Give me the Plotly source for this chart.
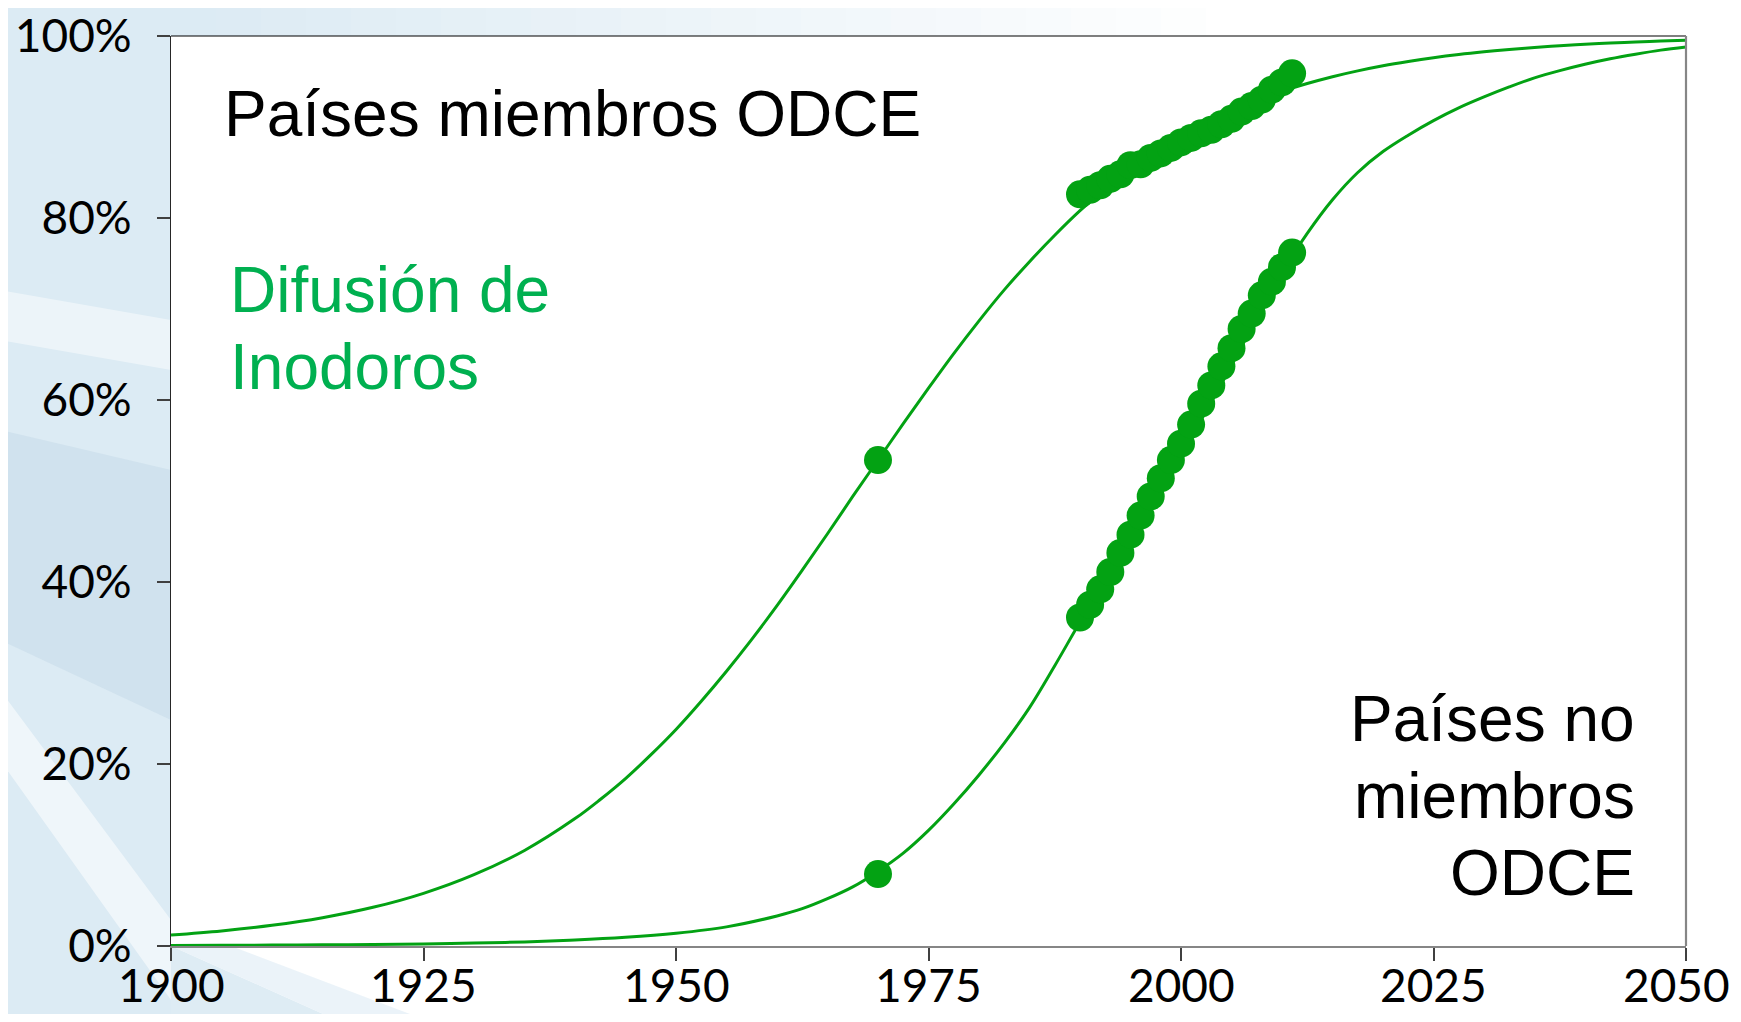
import plotly.graph_objects as go

# ---------------- data (percent) ----------------
oecd_curve_years = [1900, 1905, 1910, 1915, 1920, 1925, 1930, 1935, 1940, 1942.5,
                    1945, 1947.5, 1950, 1952.5, 1955, 1957.5, 1960, 1962.5, 1965, 1967.5,
                    1970, 1972.5, 1975, 1977.5, 1980, 1982.5, 1985, 1987.5, 1990, 1992.5,
                    1995, 1997.5, 2000, 2002.5, 2005, 2007.5, 2010, 2012.5, 2015, 2017.5,
                    2020, 2022.5, 2025, 2027.5, 2030, 2032.5, 2035, 2037.5, 2040, 2042.5,
                    2045, 2047.5, 2050]
oecd_curve = [1.2, 1.65, 2.27, 3.11, 4.25, 5.79, 7.84, 10.5, 14.0, 16.1,
              18.4, 21.0, 23.8, 26.9, 30.2, 33.7, 37.4, 41.3, 45.3, 49.4,
              53.4, 57.4, 61.3, 65.1, 68.7, 72.1, 75.2, 78.1, 80.8, 83.2,
              85.3, 87.3, 89.0, 90.5, 91.8, 92.9, 93.92, 94.78, 95.53, 96.17,
              96.73, 97.2, 97.61, 97.96, 98.26, 98.52, 98.74, 98.93, 99.09, 99.22,
              99.34, 99.44, 99.52]

non_oecd_curve_years = [1900, 1905, 1910, 1915, 1920, 1925, 1930, 1935, 1940, 1945,
                        1950, 1955, 1960, 1962.5, 1965, 1967.5, 1970, 1972.5, 1975, 1977.5,
                        1980, 1982.5, 1985, 1987.5, 1990, 1992.5, 1995, 1997.5, 2000, 2002.5,
                        2005, 2007.5, 2010, 2012.5, 2015, 2017.5, 2020, 2022.5, 2025, 2027.5,
                        2030, 2032.5, 2035, 2037.5, 2040, 2042.5, 2045, 2047.5, 2050]
non_oecd_curve = [0.06, 0.08, 0.1, 0.13, 0.17, 0.23, 0.32, 0.45, 0.65, 0.95,
                  1.4, 2.1, 3.3, 4.1, 5.2, 6.5, 8.2, 10.2, 12.7, 15.6,
                  18.8, 22.3, 26.2, 30.8, 35.6, 40.2, 44.9, 49.4, 54.0, 58.8,
                  63.8, 69.0, 74.0, 78.3, 82.0, 85.0, 87.3, 89.1, 90.7, 92.1,
                  93.3, 94.4, 95.4, 96.2, 96.9, 97.5, 98.0, 98.45, 98.8]

dot_years = [1970, 1990, 1991, 1992, 1993, 1994, 1995, 1996, 1997, 1998, 1999,
             2000, 2001, 2002, 2003, 2004, 2005, 2006, 2007, 2008, 2009, 2010, 2011]
oecd_dots = [53.4, 82.6, 83.1, 83.6, 84.3, 84.8, 85.8, 85.9, 86.6, 87.1, 87.7,
             88.3, 88.8, 89.3, 89.7, 90.3, 90.9, 91.7, 92.3, 93.0, 94.1, 94.9, 95.9]
non_oecd_dots = [7.9, 36.1, 37.5, 39.2, 41.1, 43.2, 45.2, 47.3, 49.4, 51.4, 53.4,
                 55.2, 57.3, 59.6, 61.6, 63.7, 65.7, 67.8, 69.5, 71.5, 73.0, 74.6, 76.2]

x_ticks = [1900, 1925, 1950, 1975, 2000, 2025, 2050]
y_ticks = [0, 20, 40, 60, 80, 100]

label_oecd = "Países miembros ODCE"
label_title = ["Difusión de", "Inodoros"]
label_non_oecd = ["Países no", "miembros", "ODCE"]

# ---------------- layout geometry ----------------
# page is 1741x1022 with the default 8px body margin around the figure
BODY = 8
W, H = 1741 - 2 * BODY, 1022 - 2 * BODY
PLOT_X0, PLOT_X1 = 171, 1686      # page pixels
PLOT_Y0, PLOT_Y1 = 36, 946
L = PLOT_X0 - BODY
T = PLOT_Y0 - BODY
PW = PLOT_X1 - PLOT_X0
PH = PLOT_Y1 - PLOT_Y0
R = W - L - PW
B = H - T - PH

def px(x):
    return (x - PLOT_X0) / PW

def py(y):
    return (PLOT_Y1 - y) / PH

GREEN = "#03A213"
TEXT_GREEN = "#00B050"

fig = go.Figure()
for xs, ys in ((oecd_curve_years, oecd_curve), (non_oecd_curve_years, non_oecd_curve)):
    fig.add_trace(go.Scatter(x=xs, y=ys, mode="lines",
                             line=dict(color=GREEN, width=3, shape="spline", smoothing=1.0),
                             hoverinfo="skip", showlegend=False))
for ys in (oecd_dots, non_oecd_dots):
    fig.add_trace(go.Scatter(x=dot_years, y=ys, mode="markers",
                             marker=dict(color=GREEN, size=28, line=dict(width=0)),
                             showlegend=False))

# ---------------- background decoration ----------------
shapes = []

def poly(points, color, opacity=1.0):
    d = "M " + " L ".join(f"{px(a):.5f},{py(b):.5f}" for a, b in points) + " Z"
    shapes.append(dict(type="path", path=d, xref="paper", yref="paper",
                       fillcolor=color, opacity=opacity, line=dict(width=0),
                       layer="below"))

poly([(0, 0), (PLOT_X0, 0), (PLOT_X0, 1022), (0, 1022)], "#dcebf4")
poly([(0, 430), (PLOT_X0, 470), (PLOT_X0, 720), (0, 640)], "#c8dcea", 0.6)
poly([(0, 290), (PLOT_X0, 320), (PLOT_X0, 370), (0, 340)], "#ffffff", 0.45)
poly([(0, 690), (0, 760), (PLOT_X0, 1000), (PLOT_X0, 920)], "#ffffff", 0.55)
n = 24
for i in range(n):
    x0 = PLOT_X0 + i * 45
    x1 = x0 + 46
    f = i / (n - 1)
    r = int(0xdc + (0xff - 0xdc) * f)
    g = int(0xeb + (0xff - 0xeb) * f)
    b = int(0xf4 + (0xff - 0xf4) * f)
    poly([(x0, 0), (x1, 0), (x1, PLOT_Y0), (x0, PLOT_Y0)], f"rgb({r},{g},{b})")
poly([(PLOT_X0, PLOT_Y1), (PLOT_X0 + 170, 1022), (PLOT_X0, 1022)], "#d6e7f1", 0.8)
poly([(PLOT_X0, PLOT_Y1), (PLOT_X0 + 60, PLOT_Y1), (PLOT_X0 + 260, 1022), (PLOT_X0 + 170, 1022)],
     "#e6f0f7", 0.8)
shapes.append(dict(type="rect", xref="paper", yref="paper", x0=0, x1=1, y0=0, y1=1,
                   fillcolor="white", line=dict(width=0), layer="below"))
shapes.append(dict(type="line", xref="paper", yref="paper", x0=0, x1=1, y0=1, y1=1,
                   line=dict(color="#000000", width=1.2), layer="above"))
shapes.append(dict(type="line", xref="paper", yref="paper", x0=1, x1=1, y0=0, y1=1,
                   line=dict(color="#868686", width=2.2), layer="above"))

# ---------------- annotations ----------------
ANN_FONT = "Liberation Sans, Arial, sans-serif"
FS = 64
ASC = 0.905 * FS + 2
annotations = []

def ann(text, x_px, baseline, color, anchor):
    annotations.append(dict(text=text, xref="paper", yref="paper",
                            x=px(x_px), y=py(baseline - ASC),
                            xanchor=anchor, yanchor="top", showarrow=False,
                            font=dict(family=ANN_FONT, size=FS, color=color)))

ann(label_oecd, 222, 136, "black", "left")
ann(label_title[0], 228, 312, TEXT_GREEN, "left")
ann(label_title[1], 228, 388.5, TEXT_GREEN, "left")
for txt, bl in zip(label_non_oecd, [741, 818, 895]):
    ann(txt, 1637, bl, "black", "right")

TICK_FONT = dict(family="Lato, Carlito, sans-serif", size=46, color="black")

# x tick labels (placed so they stay fully inside the page)
XLAB_Y = 984
for v in x_ticks:
    if v == x_ticks[-1]:
        annotations.append(dict(text=str(v), xref="paper", yref="paper", x=px(1731),
                                y=py(XLAB_Y), xanchor="right", yanchor="middle",
                                borderpad=0, showarrow=False, font=TICK_FONT))
    else:
        annotations.append(dict(text=str(v), xref="x", yref="paper", x=v, y=py(XLAB_Y),
                                xanchor="center", yanchor="middle", borderpad=0,
                                showarrow=False, font=TICK_FONT))

fig.update_layout(
    template="none",
    width=W, height=H, autosize=False,
    margin=dict(l=L, r=R, t=T, b=B, pad=0),
    paper_bgcolor="white", plot_bgcolor="rgba(0,0,0,0)",
    shapes=shapes, annotations=annotations,
    xaxis=dict(range=[1900, 2050], tickvals=x_ticks, showticklabels=False,
               showgrid=False, zeroline=False, showline=True, linecolor="#868686",
               linewidth=2, ticks="outside", ticklen=13, tickwidth=2, tickcolor="#404040",
               automargin=False, fixedrange=True),
    yaxis=dict(range=[0, 100], tickvals=y_ticks, ticktext=[f"{v}%" for v in y_ticks],
               showgrid=False, zeroline=False, showline=True, linecolor="#262626",
               linewidth=1.2, ticks="outside", ticklen=13, tickwidth=2, tickcolor="#404040",
               tickfont=TICK_FONT, ticklabelstandoff=16, ticklabeloverflow="allow",
               automargin=False, fixedrange=True),
)

fig.write_html("out.html", config={"displayModeBar": False})
